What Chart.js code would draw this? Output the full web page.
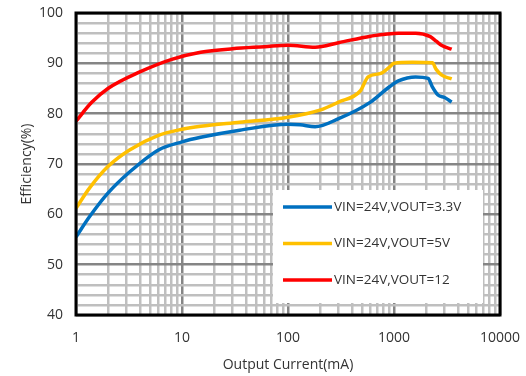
<!DOCTYPE html>
<html>
<head>
<meta charset="utf-8">
<script src="https://cdn.jsdelivr.net/npm/chart.js@4/dist/chart.umd.min.js"></script>
<style>
  html, body { margin: 0; padding: 0; background: #fff; }
  #wrap { width: 526px; height: 376px; position: relative; }
</style>
</head>
<body>
<div id="wrap"><canvas id="myChart"></canvas></div>
<script>
const ctx = document.getElementById('myChart').getContext('2d');

// series labels
const seriesLabels = ['VIN=24V,VOUT=3.3V', 'VIN=24V,VOUT=5V', 'VIN=24V,VOUT=12'];

// output current (mA) and efficiency (%)
const current33 = [1, 1.35, 2, 3.2, 6, 10, 15, 35, 100, 130, 180, 300, 600, 900, 1100, 1600, 2100, 2300, 2600, 3000, 3500];
const eff33 = [55.5, 59.6, 64.2, 68.4, 72.8, 74.4, 75.3, 76.7, 77.9, 77.8, 77.4, 79, 82.3, 85.3, 86.5, 87.3, 87, 85.3, 83.7, 83.2, 82.3];

const current5 = [1, 1.35, 2, 3.2, 6, 10, 15, 35, 100, 200, 300, 480, 570, 750, 900, 1000, 1500, 2300, 2500, 2800, 3500];
const eff5 = [61.2, 65.3, 69.5, 72.8, 75.7, 76.9, 77.5, 78.3, 79.3, 80.7, 82.3, 84.5, 87.3, 88, 89.2, 90, 90.2, 90.1, 88.8, 87.7, 86.9];

const current12 = [1, 1.4, 2, 4, 8, 15, 30, 60, 100, 180, 300, 600, 1100, 1600, 2200, 2500, 2800, 3500];
const eff12 = [78.5, 82.2, 85, 88.3, 90.8, 92.2, 92.9, 93.3, 93.6, 93.2, 94.1, 95.4, 96, 96, 95.3, 94.4, 93.6, 92.8];

// axis ticks
const xTicks = [];
for (let d = 1; d < 10000; d *= 10) {
    for (let m = 1; m < 10; m++) xTicks.push(m * d);
}
xTicks.push(10000);
const xLabels = [1, 10, 100, 1000, 10000];
const yMin = 40, yMax = 100, yMinorStep = 2, yMajorStep = 10;

const colors = ['#0070C0', '#FFC000', '#FF0000'];

function toPoints(xs, ys) {
    return xs.map((x, i) => ({ x: x, y: ys[i] }));
}

const textColor = '#333333';
const font = { family: 'Open Sans', size: 14 };

// black frame around the plot + legend box inside the plot
const framePlugin = {
    id: 'frame',
    afterDatasetsDraw(chart) {
        const c = chart.ctx;
        const a = chart.chartArea;
        // legend
        const bx = 273, by = 190, bw = 210, bh = 113;
        c.save();
        c.fillStyle = '#fff';
        c.fillRect(bx, by, bw, bh);
        chart.data.datasets.forEach((ds, i) => {
            const ly = 207 + i * 36.5;
            c.strokeStyle = ds.borderColor;
            c.lineWidth = 3.5;
            c.beginPath();
            c.moveTo(283, ly);
            c.lineTo(332, ly);
            c.stroke();
            c.fillStyle = textColor;
            c.font = '13.5px "Open Sans"';
            c.textBaseline = 'middle';
            c.fillText(ds.label, 334, ly);
        });
        // frame
        c.strokeStyle = '#000';
        c.lineWidth = 3;
        c.strokeRect(a.left, a.top, a.right - a.left, a.bottom - a.top);
        c.restore();
    }
};

const data = {
    datasets: [
        {
            label: seriesLabels[0],
            data: toPoints(current33, eff33),
            borderColor: colors[0],
            backgroundColor: colors[0],
        },
        {
            label: seriesLabels[1],
            data: toPoints(current5, eff5),
            borderColor: colors[1],
            backgroundColor: colors[1],
        },
        {
            label: seriesLabels[2],
            data: toPoints(current12, eff12),
            borderColor: colors[2],
            backgroundColor: colors[2],
        },
    ],
};

const config = {
    type: 'line',
    data: data,
    plugins: [framePlugin],
    options: {
        responsive: true,
        maintainAspectRatio: false,
        animation: false,
        layout: { padding: { left: 0, top: 13, right: 26, bottom: 0 } },
        elements: {
            point: { radius: 0 },
            line: { borderWidth: 3.5, tension: 0.4, cubicInterpolationMode: 'monotone' },
        },
        plugins: {
            legend: { display: false },
            tooltip: { enabled: false },
        },
        scales: {
            x: {
                type: 'logarithmic',
                min: 1,
                max: 10000,
                afterBuildTicks: (scale) => {
                    scale.ticks = xTicks.map(v => ({ value: v }));
                },
                afterFit: (scale) => {
                    scale.height = 61;
                    scale.paddingLeft = 0;
                    scale.paddingRight = 0;
                },
                ticks: {
                    autoSkip: false,
                    maxRotation: 0,
                    color: textColor,
                    font: font,
                    padding: 15,
                    callback: (value) => xLabels.includes(value) ? String(value) : '',
                },
                grid: {
                    drawTicks: false,
                    lineWidth: 2.5,
                    color: (c) => xLabels.includes(c.tick && c.tick.value) ? '#858585' : '#bfbfbf',
                },
                border: { display: false },
                title: {
                    display: true,
                    text: 'Output Current(mA)',
                    color: textColor,
                    font: font,
                    padding: { top: 0, bottom: 3 },
                },
            },
            y: {
                min: yMin,
                max: yMax,
                afterFit: (scale) => {
                    scale.width = 76;
                    scale.paddingTop = 0;
                    scale.paddingBottom = 0;
                },
                ticks: {
                    stepSize: yMinorStep,
                    autoSkip: false,
                    color: textColor,
                    font: font,
                    padding: 13,
                    callback: (value) => value % yMajorStep === 0 ? String(value) : '',
                },
                grid: {
                    drawTicks: false,
                    lineWidth: 2.5,
                    color: (c) => (c.tick && c.tick.value % yMajorStep === 0) ? '#858585' : '#bfbfbf',
                },
                border: { display: false },
                title: {
                    display: true,
                    text: 'Efficiency(%)',
                    color: textColor,
                    font: font,
                    padding: { top: 19, bottom: 0 },
                },
            },
        },
    },
};

const myChart = new Chart(ctx, config);
</script>
</body>
</html>
